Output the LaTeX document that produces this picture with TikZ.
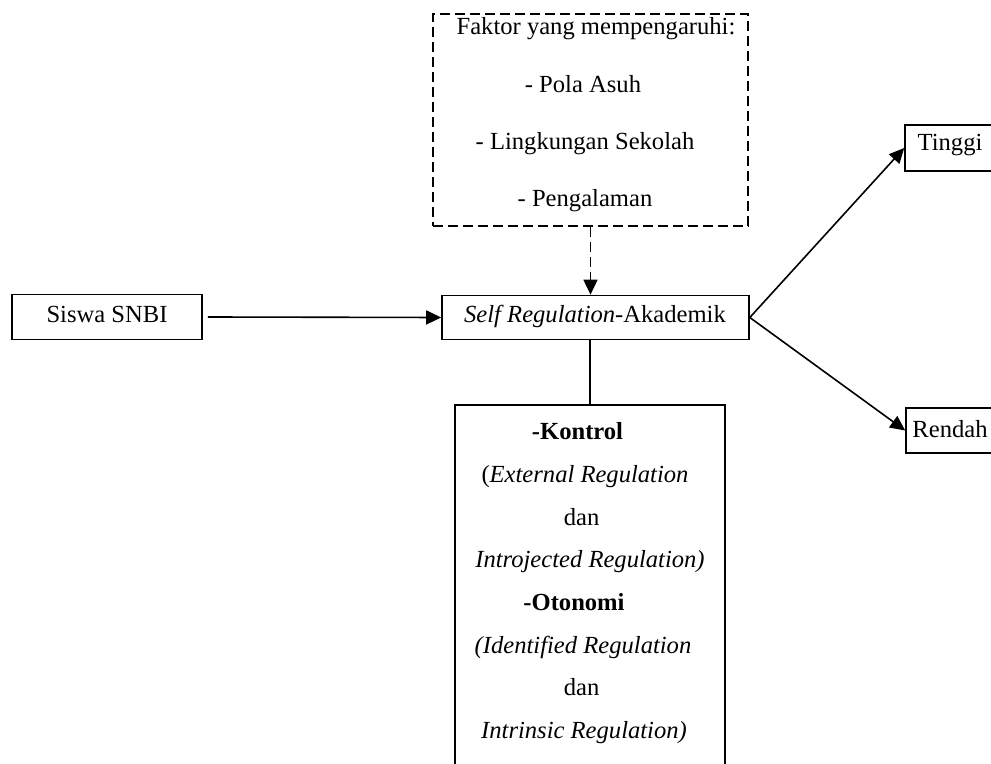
\documentclass[tikz,border=0pt]{standalone}
\usepackage{fontspec}
\setmainfont{Liberation Serif}
\usetikzlibrary{arrows.meta}
\begin{document}
\begin{tikzpicture}[x=0.5pt,y=-0.5pt,
  box/.style={draw,line width=0.8pt,inner sep=0pt},
  txt/.style={inner sep=0pt,anchor=base,font=\fontsize{12.3}{14}\selectfont},
  arr/.style={line width=0.8pt,-{Triangle[length=7.5pt,width=7pt]}},
  dashline/.style={dash pattern=on 5pt off 2.5pt}]
\useasboundingbox (0,0) rectangle (991,764);
\clip (0,0) rectangle (991,764);
% boxes
\node[box,dashline,minimum width=157.5pt,minimum height=106pt] (faktor) at (590.5,120) {};
\node[box,minimum width=95pt,minimum height=22.5pt] (siswa) at (107,317) {};
\node[box,minimum width=153.5pt,minimum height=22pt] (self) at (595.5,317.5) {};
\node[box,minimum width=135pt,minimum height=187pt] (bot) at (590,592) {};
\node[box,minimum width=47.5pt,minimum height=23pt] (tinggi) at (952.5,148) {};
\node[box,minimum width=45pt,minimum height=22.5pt] (rendah) at (951,430.5) {};
% texts
\node[txt] (f1) at (596,35) {Faktor yang mempengaruhi:};
\node[txt] (f2) at (583,92.5) {- Pola Asuh};
\node[txt] (f3) at (585,150) {- Lingkungan Sekolah};
\node[txt] (f4) at (585,207) {- Pengalaman};
\node[txt] (t1) at (107,323) {Siswa SNBI};
\node[txt] (t2) at (595,323) {\textit{Self Regulation}-Akademik};
\node[txt] (t3) at (950,151) {Tinggi};
\node[txt] (t4) at (950,438) {Rendah};
\node[txt] (b1) at (577.5,440) {\textbf{-Kontrol}};
\node[txt] (b2) at (585,482.6) {(\textit{External Regulation}};
\node[txt] (b3) at (581.7,525.2) {dan};
\node[txt] (b4) at (590,567.8) {\textit{Introjected Regulation)}};
\node[txt] (b5) at (574,610.4) {\textbf{-Otonomi}};
\node[txt] (b6) at (583,653) {\textit{(Identified Regulation}};
\node[txt] (b7) at (581.7,695.6) {dan};
\node[txt] (b8) at (584,738.2) {\textit{Intrinsic Regulation)}};
% connectors
\draw[arr] ([xshift=2.5pt]siswa.east) -- (self.west);
\draw[arr,dashline] (faktor.south) -- (faktor.south |- self.north);
\draw[line width=0.8pt] (bot.north |- self.south) -- (bot.north);
\draw[arr] (self.east) -- (tinggi.west);
\draw[arr] (self.east) -- (rendah.west);
\end{tikzpicture}
\end{document}
